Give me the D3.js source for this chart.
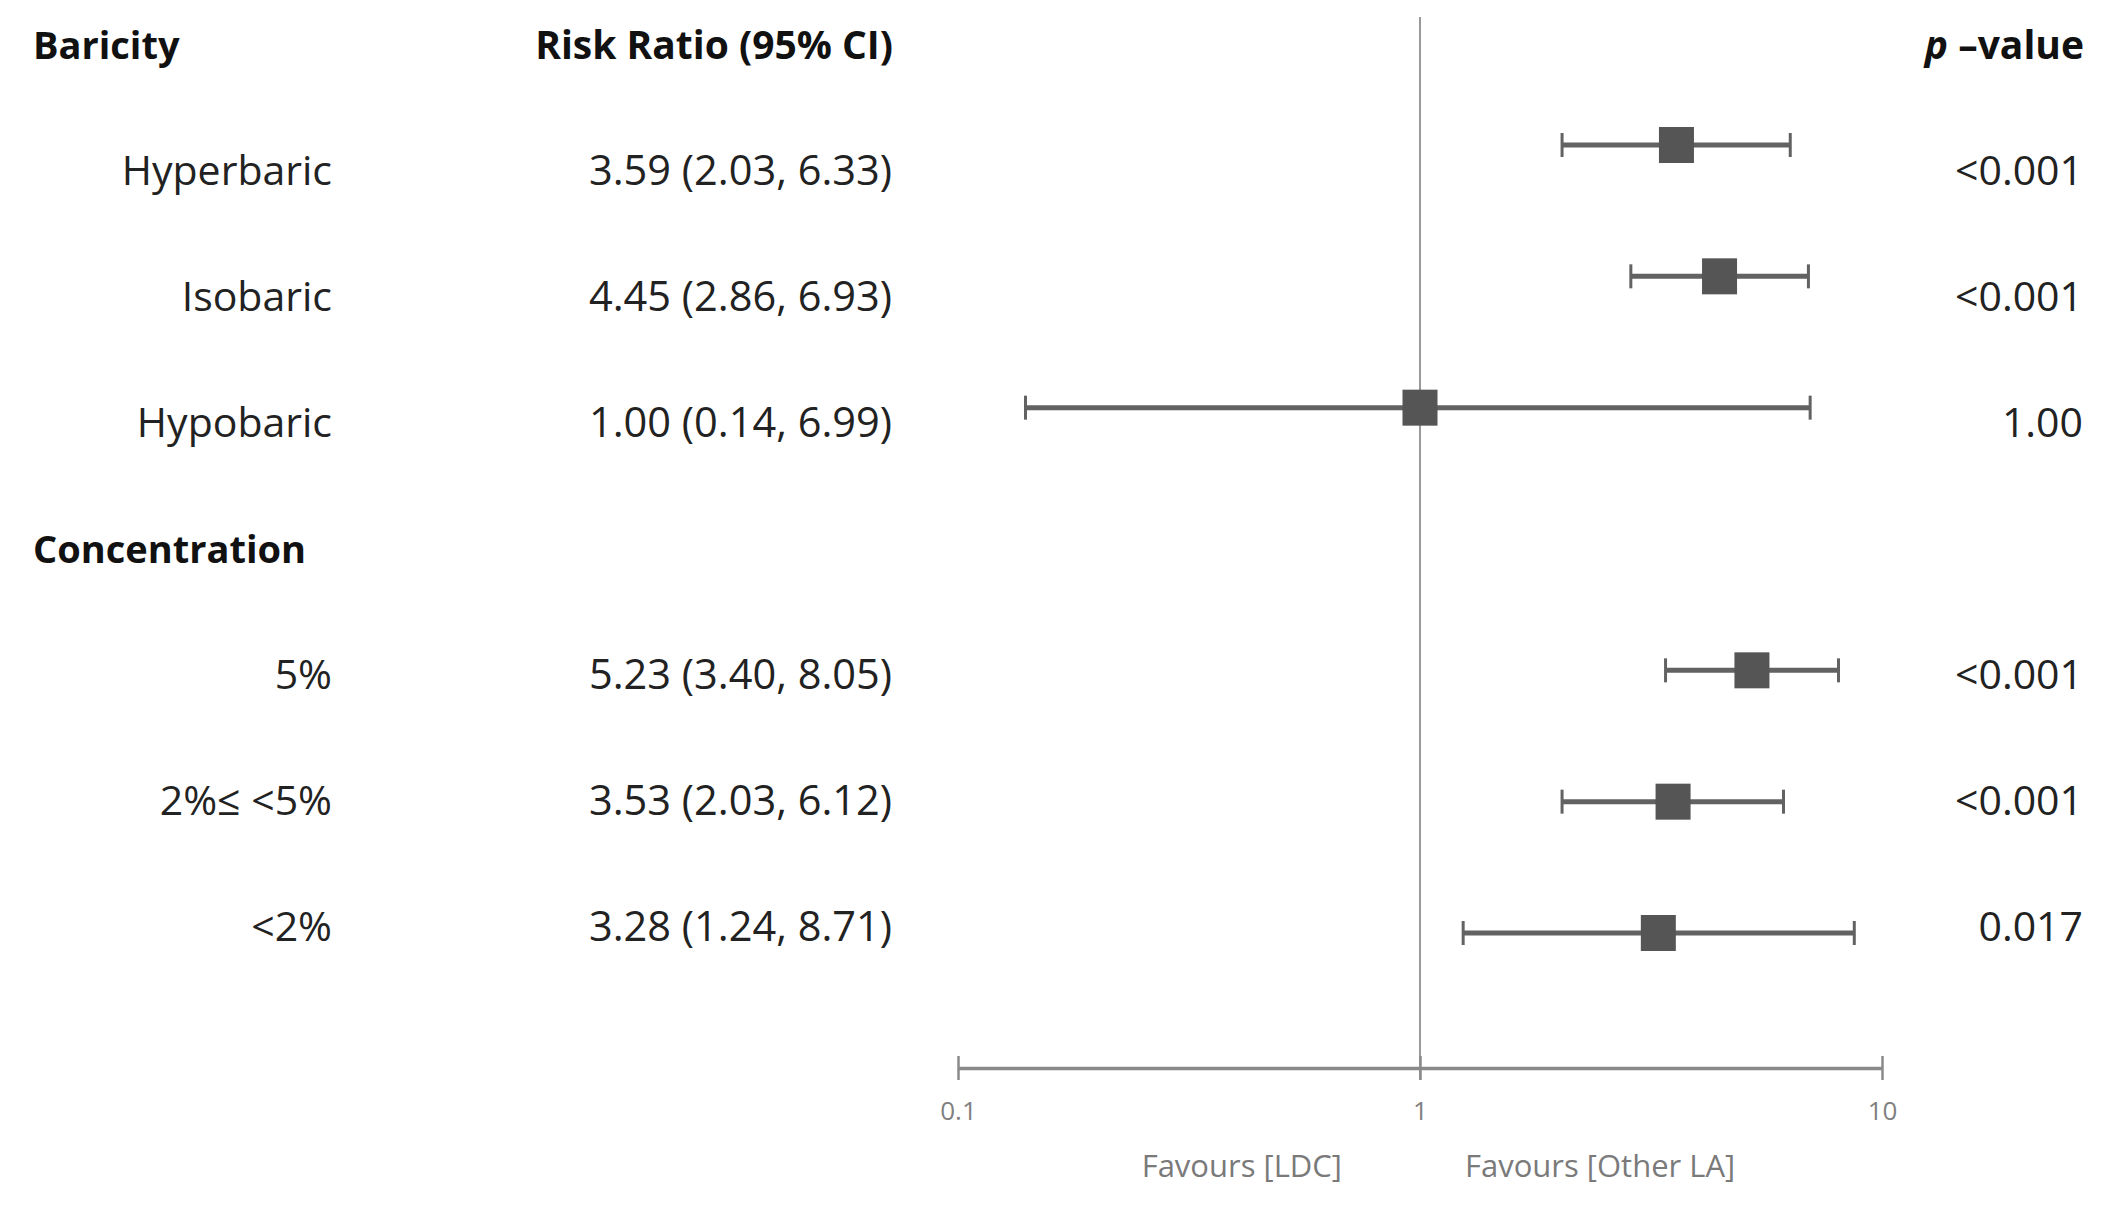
<!DOCTYPE html>
<html>
<head>
<meta charset="utf-8">
<script src="https://cdn.jsdelivr.net/npm/d3@7"></script>
<style>
	body { margin: 0; background: #fff; }
	svg { display: block; }
	text { font-family: 'Open Sans', sans-serif; }
</style>
</head>
<body>
<script>
var groups = ["Baricity", "Concentration"];
var categories = ["Hyperbaric", "Isobaric", "Hypobaric", "5%", "2%\u2264 <5%", "<2%"];
var categoryGroup = [0, 0, 0, 1, 1, 1];
var estimates = [3.59, 4.45, 1.00, 5.23, 3.53, 3.28];
var lowerCI = [2.03, 2.86, 0.14, 3.40, 2.03, 1.24];
var upperCI = [6.33, 6.93, 6.99, 8.05, 6.12, 8.71];
var pValues = ["<0.001", "<0.001", "1.00", "<0.001", "<0.001", "0.017"];
var xTicks = [0.1, 1, 10];
var favourLabels = ["Favours [LDC]", "Favours [Other LA]"];

var width = 2112, height = 1214;

var svg = d3.select('body').append('svg')
	.attr('width', width)
	.attr('height', height);

// build row order: group header followed by its categories
var rows = [];
groups.forEach(function(g, gi) {
	rows.push({ header: true, label: g });
	categories.forEach(function(c, i) {
		if (categoryGroup[i] == gi) rows.push({ header: false, label: c, idx: i });
	});
});

var x = d3.scaleLog().domain([0.1, 10]).range([958, 1882]);
var textY = d3.scaleLinear().domain([0, rows.length - 1]).range([59, 941]);
var markY = d3.scaleLinear().domain([1, rows.length - 1]).range([145, 933]);

var fmt = d3.format('.2f');

// column headers
svg.append('text')
	.attr('x', 893).attr('y', textY(0))
	.attr('text-anchor', 'end')
	.style('font-weight', 'bold').style('font-size', '39px').style('fill', '#111')
	.text('Risk Ratio (95% CI)');

var pHead = svg.append('text')
	.attr('x', 2084).attr('y', textY(0))
	.attr('text-anchor', 'end')
	.style('font-weight', 'bold').style('font-size', '39px').style('fill', '#111');
pHead.append('tspan').style('font-style', 'italic').text('p');
pHead.append('tspan').text(' \u2013value');

// reference line at 1
svg.append('line')
	.attr('x1', x(1)).attr('x2', x(1))
	.attr('y1', 17).attr('y2', 1080)
	.style('stroke', '#9a9a9a').style('stroke-width', 2);

// row texts
rows.forEach(function(r, i) {
	if (r.header) {
		svg.append('text')
			.attr('x', 33).attr('y', textY(i))
			.style('font-weight', 'bold').style('font-size', '38px').style('fill', '#111')
			.text(r.label);
		return;
	}
	svg.append('text')
		.attr('x', 332).attr('y', textY(i))
		.attr('text-anchor', 'end')
		.style('font-size', '41px').style('fill', '#222')
		.text(r.label);
	svg.append('text')
		.attr('x', 892).attr('y', textY(i))
		.attr('text-anchor', 'end')
		.style('font-size', '41.5px').style('fill', '#222')
		.text(fmt(estimates[r.idx]) + ' (' + fmt(lowerCI[r.idx]) + ', ' + fmt(upperCI[r.idx]) + ')');
	svg.append('text')
		.attr('x', 2083).attr('y', textY(i))
		.attr('text-anchor', 'end')
		.style('font-size', '41px').style('fill', '#222')
		.text(pValues[r.idx]);
});

// whiskers + squares
var marks = svg.append('g').attr('id', 'marks');
rows.forEach(function(r, i) {
	if (r.header) return;
	var y = markY(i);
	var g = marks.append('g');
	g.append('line')
		.attr('x1', x(lowerCI[r.idx])).attr('x2', x(upperCI[r.idx]))
		.attr('y1', y).attr('y2', y)
		.style('stroke', '#626262').style('stroke-width', 5);
	[lowerCI[r.idx], upperCI[r.idx]].forEach(function(v) {
		g.append('line')
			.attr('x1', x(v)).attr('x2', x(v))
			.attr('y1', y - 12).attr('y2', y + 12)
			.style('stroke', '#626262').style('stroke-width', 3);
	});
	g.append('rect')
		.attr('x', x(estimates[r.idx]) - 17.5).attr('y', y - 18)
		.attr('width', 35).attr('height', 36)
		.style('fill', '#555');
});

// x axis
var axis = svg.append('g')
	.attr('transform', 'translate(0,1068)')
	.call(d3.axisBottom(x).tickValues(xTicks).tickFormat(d3.format('')).tickSizeOuter(0).tickSize(0).tickPadding(34));
axis.select('.domain').style('stroke', '#8a8a8a').style('stroke-width', 3.5);
axis.selectAll('.tick line')
	.attr('y1', -12).attr('y2', 12)
	.style('stroke', '#8a8a8a').style('stroke-width', 2.5);
axis.selectAll('.tick text')
	.style('font-family', "'Open Sans', sans-serif")
	.style('font-size', '26px').style('fill', '#808080');

svg.append('text')
	.attr('x', x(1) - 78).attr('y', 1177)
	.attr('text-anchor', 'end')
	.style('font-size', '31px').style('fill', '#7a7a7a')
	.text(favourLabels[0]);
svg.append('text')
	.attr('x', x(1) + 45).attr('y', 1177)
	.style('font-size', '31px').style('fill', '#7a7a7a')
	.text(favourLabels[1]);
</script>
</body>
</html>
